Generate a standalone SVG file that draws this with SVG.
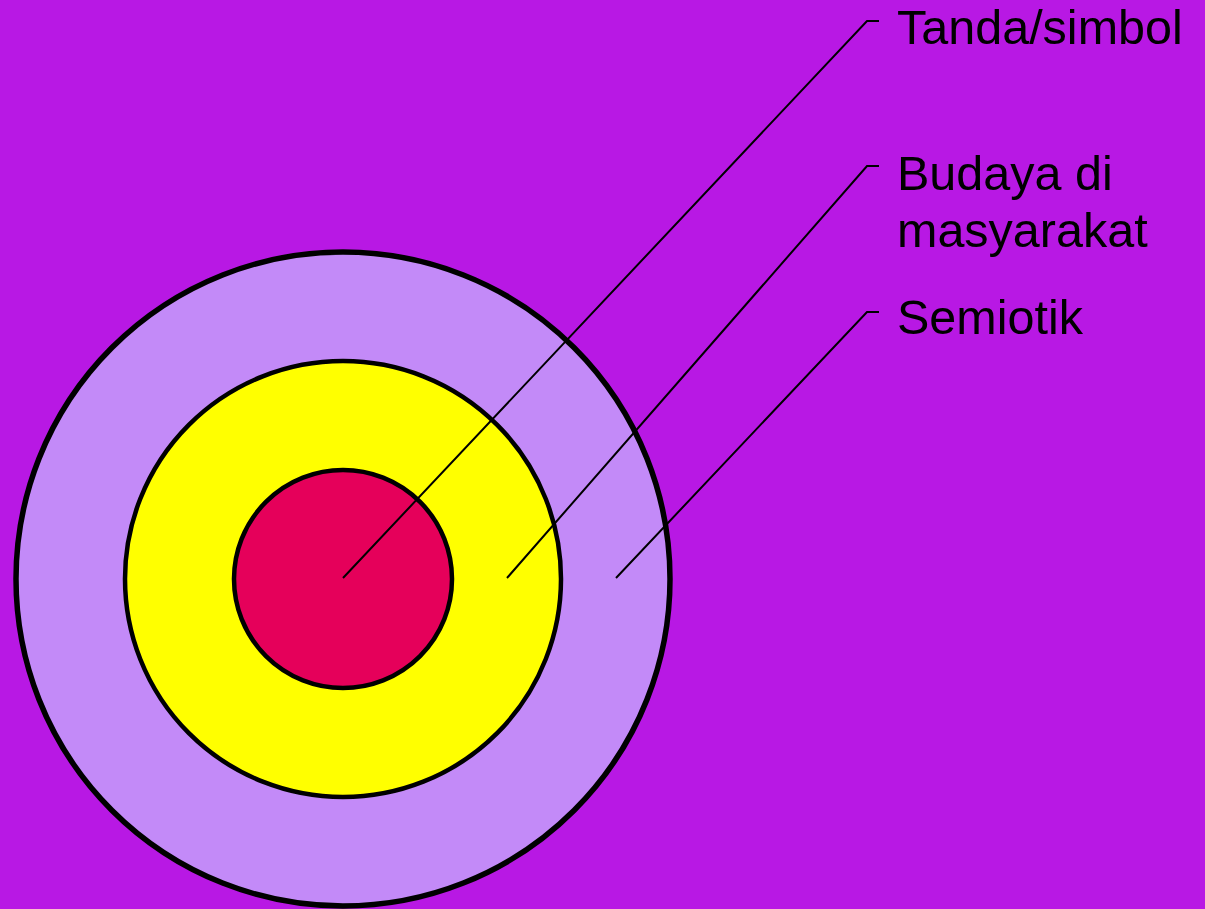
<svg xmlns="http://www.w3.org/2000/svg" width="1205" height="909" viewBox="0 0 1205 909">
<style>
.ring{stroke:#000;stroke-width:4.5}
.lead{fill:none;stroke:#000;stroke-width:2}
.lbl{font-family:"Liberation Sans",Arial,sans-serif;font-size:48.5px;fill:#000}
</style>
<rect width="1205" height="909" fill="#B818E4"/>
<g id="semiotik"><circle cx="343" cy="579" r="327" fill="#C38AF8" class="ring" style="stroke-width:5.5"/></g>
<g id="budaya"><circle cx="343" cy="579" r="218" fill="#FFFF00" class="ring"/></g>
<g id="tanda"><circle cx="343" cy="579" r="109" fill="#E5005A" class="ring"/></g>
<g id="connectors">
<polyline class="lead" points="343,578 867,21 879,21"/>
<polyline class="lead" points="507,578 867,166 879,166"/>
<polyline class="lead" points="616,578 867,312 879,312"/>
</g>
<g id="labels">
<text class="lbl" x="897" y="44">Tanda/simbol</text>
<text class="lbl" x="897" y="190">Budaya di</text>
<text class="lbl" x="897" y="247">masyarakat</text>
<text class="lbl" x="897" y="334">Semiotik</text>
</g>
</svg>
